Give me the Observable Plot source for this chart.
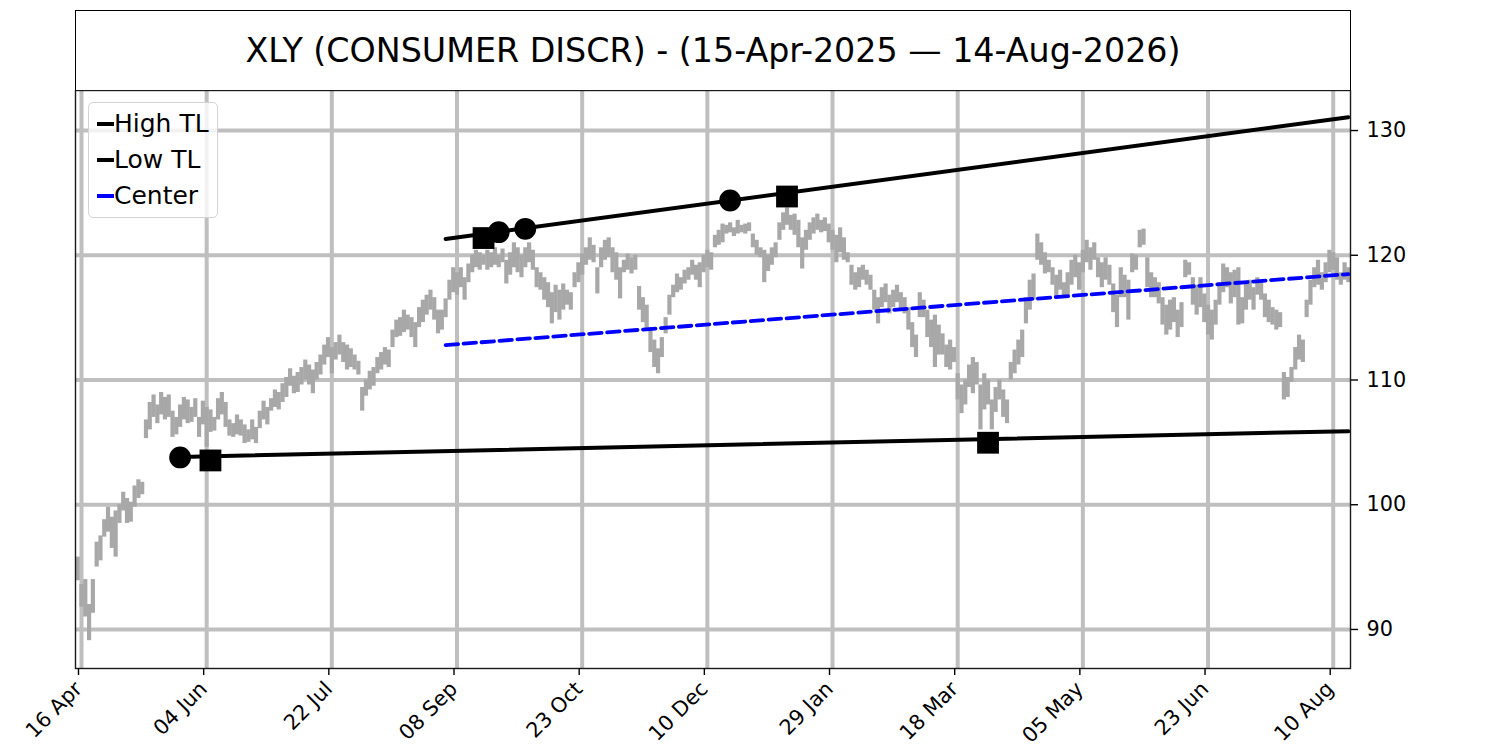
<!DOCTYPE html>
<html>
<head>
<meta charset="utf-8">
<script src="https://cdn.jsdelivr.net/npm/d3@7"></script>
<script src="https://cdn.jsdelivr.net/npm/@observablehq/plot@0.6"></script>
<style>
  body { margin: 0; background: #fff; font-family: "DejaVu Sans", sans-serif; }
  #wrap { position: relative; width: 1500px; height: 750px; background: #fff; }
  #title { position: absolute; left: 75px; top: 10px; width: 1276px; height: 81px; box-sizing: border-box;
           border: 1.4px solid #000; display: flex; align-items: center; justify-content: center;
           font-size: 33.3px; color: #000; }
  #chart { position: absolute; left: 0; top: 90px; }
  #legend { position: absolute; left: 88px; top: 102px; width: 130px; height: 116px; box-sizing: border-box;
            border: 1.4px solid #d4d4d4; border-radius: 5px; background: rgba(255,255,255,0.8);
            font-size: 25px; color: #000; }
  .row { position: absolute; left: 0; height: 30px; line-height: 30px; white-space: nowrap; }
  .hdl { position: absolute; left: 8px; top: 13px; width: 17px; height: 4px; }
  .lbl { position: absolute; left: 25px; top: 0; }
</style>
</head>
<body>
<div id="wrap">
  <div id="title"></div>
  <div id="chart"></div>
  <div id="legend"></div>
</div>
<script>
// ---------------- data ----------------
const titleText = "XLY (CONSUMER DISCR) - (15-Apr-2025 \u2014 14-Aug-2026)";

// x tick positions (trading-day index, 0 = 15-Apr-2025) and their labels
const tickIdx = [1, 34, 67, 100, 133, 166, 199, 232, 265, 298, 331];
const tickLabels = ["16 Apr", "04 Jun", "22 Jul", "08 Sep", "23 Oct", "10 Dec", "29 Jan", "18 Mar", "05 May", "23 Jun", "10 Aug"];
const yTicks = [90, 100, 110, 120, 130];

// daily high / low (one value per trading day)
const high = [
  95.8, 93.6, 94.0, 92.0, 94.0, 97.0, 97.5, 98.8, 99.8, 99.0,
  99.5, 100.0, 101.0, 100.5, 100.2, 101.5, 102.0, 101.8, 106.8, 108.2,
  108.8, 108.0, 109.0, 108.6, 108.8, 107.5, 107.0, 108.0, 108.6, 108.4,
  107.8, 108.5, 107.0, 108.3, 107.8, 107.6, 107.0, 108.5, 109.0, 108.2,
  106.8, 106.5, 107.2, 106.8, 106.4, 106.0, 106.8, 106.2, 107.5, 108.3,
  107.8, 108.5, 109.2, 109.0, 109.7, 110.2, 110.9, 110.3, 110.6, 111.0,
  111.6, 111.2, 110.8, 111.4, 112.0, 112.8, 113.4, 112.6, 113.0, 113.6,
  113.0, 112.8, 112.5, 112.0, 111.5, 109.4, 110.0, 110.7, 111.0, 111.8,
  112.2, 112.6, 112.4, 114.0, 114.8, 115.0, 115.6, 115.2, 115.0, 114.6,
  115.8, 116.4, 116.8, 117.2, 116.6, 115.6, 115.6, 116.5, 118.0, 119.0,
  118.6, 119.0, 118.2, 119.3, 120.0, 120.4, 120.2, 120.0, 120.4, 120.2,
  120.6, 120.0, 120.5, 119.6, 120.2, 121.0, 120.6, 120.0, 120.6, 121.0,
  120.4, 119.0, 118.6, 118.2, 117.8, 117.0, 117.6, 117.2, 117.7, 117.2,
  117.0, 118.6, 119.4, 120.1, 120.6, 121.4, 120.8, 119.0, 120.6, 121.2,
  121.4, 120.6, 120.2, 119.0, 119.6, 120.1, 119.8, 120.0, 117.5, 116.6,
  116.0, 114.2, 113.2, 112.5, 113.4, 115.0, 116.8, 117.6, 118.5, 118.2,
  118.8, 119.0, 119.6, 119.2, 119.4, 120.0, 120.4, 120.2, 121.6, 122.0,
  122.5, 122.4, 122.6, 122.2, 122.8, 122.4, 122.5, 122.6, 121.7, 121.2,
  120.6, 120.4, 120.0, 120.6, 121.0, 122.6, 123.4, 123.8, 123.2, 123.3,
  122.8, 121.4, 122.0, 122.6, 123.0, 123.3, 122.8, 123.0, 122.5, 122.0,
  121.6, 122.2, 121.4, 120.2, 119.2, 118.6, 119.0, 119.2, 118.8, 118.4,
  117.2, 116.6, 117.4, 117.7, 116.8, 117.2, 117.6, 117.0, 116.6, 115.8,
  114.6, 113.6, 117.0, 116.4, 115.6, 114.8, 115.2, 114.4, 113.7, 112.8,
  113.2, 112.6, 110.5, 109.6, 110.0, 111.2, 111.8, 111.4, 109.6, 110.5,
  110.0, 108.4, 109.4, 110.0, 109.2, 108.4, 111.4, 112.4, 113.2, 114.0,
  116.6, 118.0, 118.5, 121.7, 121.0, 120.2, 119.6, 119.0, 118.4, 118.8,
  117.8, 118.6, 119.6, 120.0, 119.4, 120.4, 121.2, 120.6, 121.0, 119.8,
  119.4, 119.8, 119.2, 117.7, 116.8, 119.0, 118.4, 118.0, 120.1, 120.0,
  122.0, 122.1, 119.8, 118.6, 118.2, 117.8, 116.6, 116.0, 116.4, 116.6,
  115.6, 116.2, 119.6, 119.4, 118.2, 117.6, 118.2, 116.9, 116.0, 115.6,
  116.4, 117.8, 119.3, 119.0, 118.6, 118.8, 119.0, 116.6, 117.8, 118.0,
  117.4, 118.2, 117.8, 116.9, 116.4, 115.8, 115.6, 115.4, 110.6, 110.2,
  111.0, 112.6, 113.6, 113.2, 116.4, 118.0, 119.0, 119.6, 118.6, 119.4,
  120.4, 120.2, 119.8, 118.6, 119.4, 119.0
];
const low = [
  93.9, 91.8, 91.0, 89.1, 91.3, 95.0, 95.5, 97.4, 97.8, 96.5,
  95.8, 98.5, 99.5, 98.5, 98.6, 99.8, 100.5, 100.8, 105.3, 106.0,
  107.0, 106.5, 107.2, 106.8, 107.0, 105.4, 105.6, 106.2, 106.8, 106.5,
  106.6, 107.0, 105.4, 106.4, 104.6, 105.8, 105.9, 106.8, 107.2, 106.2,
  105.5, 105.4, 105.6, 105.5, 104.9, 105.0, 105.2, 104.9, 106.1, 106.8,
  106.4, 107.5, 107.8, 107.6, 108.2, 108.6, 109.5, 108.9, 109.0, 109.6,
  110.0, 109.6, 108.9, 110.0, 110.4, 111.2, 111.8, 110.5, 111.6, 112.0,
  111.4, 110.8, 111.0, 110.8, 110.4, 107.5, 108.7, 109.2, 109.5, 110.5,
  110.8, 111.2, 111.0, 112.6, 113.4, 113.5, 113.8, 114.0, 113.4, 112.6,
  114.2, 114.6, 115.2, 115.6, 114.8, 113.7, 114.0, 115.0, 116.4, 117.0,
  116.8, 117.4, 116.4, 117.8, 118.6, 119.0, 118.8, 119.2, 118.8, 119.0,
  119.2, 119.0, 119.4, 117.7, 118.4, 119.0, 118.6, 118.2, 119.0, 119.4,
  118.8, 117.4, 117.2, 116.4, 115.8, 114.5, 115.4, 114.8, 115.6, 116.0,
  115.6, 117.4, 117.8, 118.4, 119.2, 119.6, 119.4, 116.9, 119.0, 119.6,
  119.8, 118.6, 118.0, 116.5, 118.6, 118.8, 118.5, 118.8, 115.6, 114.6,
  114.0, 112.2, 111.0, 110.5, 111.8, 113.7, 115.2, 116.6, 117.0, 117.2,
  117.7, 118.0, 118.4, 118.0, 117.4, 118.6, 119.0, 118.8, 120.6, 120.8,
  121.0, 121.7, 121.8, 121.5, 121.7, 121.8, 121.7, 121.9, 120.6, 120.0,
  119.8, 117.8, 118.7, 119.2, 119.8, 121.2, 122.0, 122.4, 122.0, 121.6,
  120.6, 118.9, 120.4, 121.2, 121.7, 122.0, 121.8, 121.9, 121.0, 120.4,
  119.4, 120.2, 119.6, 119.4, 117.6, 117.2, 117.4, 118.0, 117.6, 117.2,
  115.6, 114.5, 115.8, 116.2, 115.3, 115.8, 116.2, 115.6, 115.3, 114.0,
  112.6, 111.8, 115.0, 115.0, 113.4, 112.6, 111.0, 112.0, 112.0, 111.0,
  110.8, 111.4, 108.4, 107.3, 108.0, 109.4, 108.9, 109.6, 106.0, 107.6,
  108.0, 106.0, 107.4, 108.4, 107.0, 106.5, 110.0, 110.5, 111.2, 111.8,
  114.5, 115.6, 116.4, 119.6, 119.2, 118.5, 118.6, 117.6, 116.6, 117.2,
  116.6, 116.8, 117.6, 118.2, 117.2, 118.6, 119.4, 118.8, 119.6, 118.2,
  117.4, 118.0, 117.6, 115.4, 114.2, 116.6, 116.6, 114.8, 118.6, 118.8,
  120.6, 120.8, 117.4, 116.6, 116.6, 116.1, 114.4, 113.6, 114.0, 114.6,
  113.4, 114.2, 118.2, 118.4, 116.0, 115.2, 115.8, 114.6, 113.6, 113.2,
  114.4, 116.0, 117.0, 117.4, 116.1, 116.6, 114.4, 114.5, 115.6, 116.4,
  115.6, 116.8, 116.4, 115.0, 114.6, 114.4, 114.0, 114.2, 108.4, 108.6,
  109.8, 110.8, 111.6, 111.4, 115.0, 116.0, 117.4, 117.6, 117.2, 117.8,
  118.6, 118.8, 118.0, 117.6, 118.0, 117.8
];

// trend lines (end points: day index, price)
const highTLIdx = [97, 335];
const highTLVal = [121.31, 131.07];
const lowTLIdx = [27, 335];
const lowTLVal = [103.83, 105.90];
const centerIdx = [97, 335];
const centerVal = [112.80, 118.49];

// pivot markers
const highMarkIdx = [107, 111, 118, 172, 187];
const highMarkVal = [121.38, 121.85, 122.12, 124.39, 124.71];
const highMarkShape = ["square", "circle", "circle", "circle", "square"];
const lowMarkIdx = [27, 35, 240];
const lowMarkVal = [103.79, 103.55, 104.97];
const lowMarkShape = ["circle", "square", "square"];

const legendLabels = ["High TL", "Low TL", "Center"];
const legendColors = ["#000000", "#000000", "#0000ff"];

// ---------------- build ----------------
document.getElementById("title").textContent = titleText;

const bars = high.map((h, i) => ({i, h, l: low[i]}));
const toPts = (xs, vs) => xs.map((x, k) => ({x, v: vs[k]}));
const markers = [
  ...highMarkIdx.map((x, k) => ({x, v: highMarkVal[k], s: highMarkShape[k]})),
  ...lowMarkIdx.map((x, k) => ({x, v: lowMarkVal[k], s: lowMarkShape[k]}))
];
const labelOf = new Map(tickIdx.map((d, k) => [d, tickLabels[k]]));

const chart = Plot.plot({
  width: 1500,
  height: 660,
  marginLeft: 75,
  marginRight: 150,
  marginTop: 0,
  marginBottom: 82,
  style: {fontFamily: "DejaVu Sans", fontSize: "20.8px", background: "transparent", color: "#000"},
  x: {domain: [-0.58, 335.56]},
  y: {domain: [86.87, 133.21]},
  marks: [
    Plot.gridX(tickIdx, {stroke: "#bfbfbf", strokeOpacity: 1, strokeWidth: 4}),
    Plot.gridY(yTicks, {stroke: "#bfbfbf", strokeOpacity: 1, strokeWidth: 4}),
    Plot.ruleX(bars, {x: "i", y1: "l", y2: "h", stroke: "#a8a8a8", strokeWidth: 4.2}),
    Plot.line(toPts(highTLIdx, highTLVal), {x: "x", y: "v", stroke: "#000", strokeWidth: 4}),
    Plot.line(toPts(lowTLIdx, lowTLVal), {x: "x", y: "v", stroke: "#000", strokeWidth: 4}),
    Plot.line(toPts(centerIdx, centerVal), {x: "x", y: "v", stroke: "#0000ff", strokeWidth: 3.8, strokeDasharray: "12.5,5.5"}),
    Plot.dot(markers.filter(d => d.s === "circle"), {x: "x", y: "v", r: 10.9, symbol: "circle", fill: "#000", stroke: "none"}),
    Plot.dot(markers.filter(d => d.s === "square"), {x: "x", y: "v", r: 12.3, symbol: "square", fill: "#000", stroke: "none"}),
    Plot.frame({stroke: "#1a1a1a", strokeWidth: 1.4}),
    Plot.axisY(yTicks, {anchor: "right", tickSize: 7, tickPadding: 9, fontSize: 20.8, strokeWidth: 1.4, tickFormat: d => String(d)}),
    Plot.axisX(tickIdx, {anchor: "bottom", tickSize: 7, tickPadding: 10, tickRotate: -45, fontSize: 20.8, strokeWidth: 1.4, dx: -3, tickFormat: d => labelOf.get(d)})
  ]
});
document.getElementById("chart").appendChild(chart);

// legend
const leg = document.getElementById("legend");
const rowCenters = [20.5, 56.8, 93.3];
legendLabels.forEach((lab, k) => {
  const row = document.createElement("div");
  row.className = "row";
  row.style.top = (rowCenters[k] - 15) + "px";
  const h = document.createElement("span");
  h.className = "hdl";
  h.style.background = legendColors[k];
  const t = document.createElement("span");
  t.className = "lbl";
  t.textContent = lab;
  row.appendChild(h);
  row.appendChild(t);
  leg.appendChild(row);
});
</script>
</body>
</html>
